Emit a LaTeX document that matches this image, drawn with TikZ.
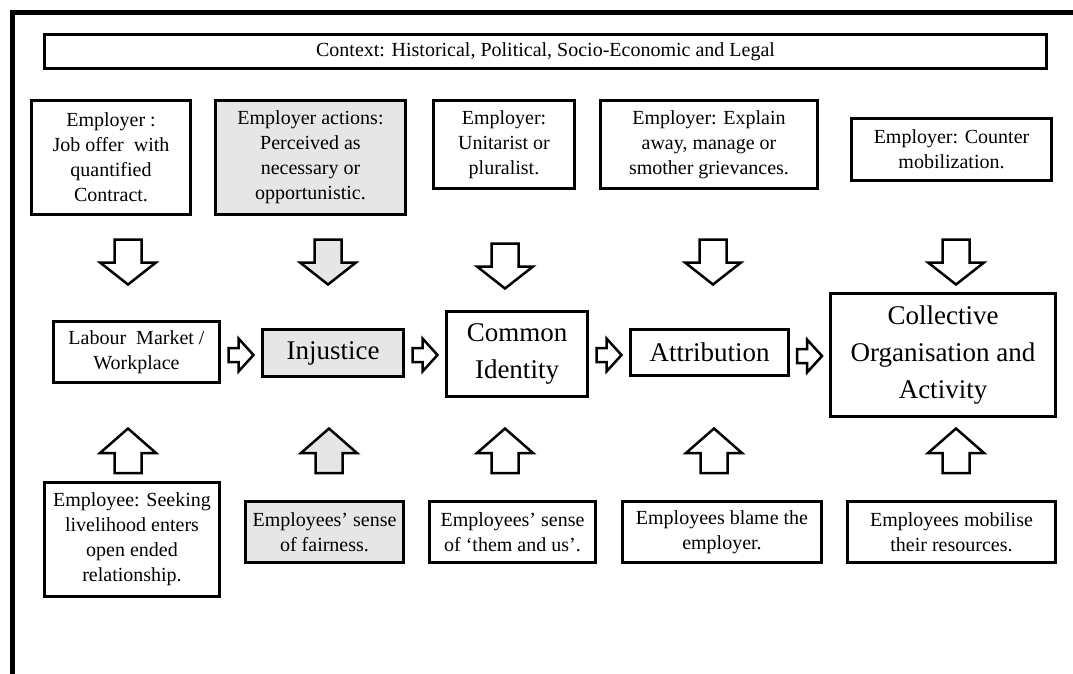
\documentclass[tikz,border=0pt]{standalone}
\usepackage{fontspec}
\setmainfont{Liberation Serif}
\usetikzlibrary{calc}
\definecolor{shade}{RGB}{230,230,230}
\tikzset{
  x=1pt, y=-1pt,
  box/.style={draw, line width=3pt, inner sep=0pt, align=center, fill=white,
    font=\fontsize{20}{25}\selectfont},
  greybox/.style={box, fill=shade},
  bigtext/.style={font=\fontsize{27}{37}\selectfont},
  blockline/.style={draw, line width=2.5pt, line join=miter},
  % hollow block arrows, origin at the middle of the tail
  pics/downarrow/.style={code={
    \path[blockline, fill=#1] (-13.5,0) -- (13.5,0) -- (13.5,23) -- (28,23)
      -- (0,45) -- (-28,23) -- (-13.5,23) -- cycle;}},
  pics/uparrow/.style={code={
    \path[blockline, fill=#1] (-13.5,0) -- (13.5,0) -- (13.5,-20) -- (28,-20)
      -- (0,-44.5) -- (-28,-20) -- (-13.5,-20) -- cycle;}},
  pics/rightarrow/.style={code={
    \path[blockline, fill=#1] (-12.5,-7) -- (-2.5,-7) -- (-2.5,-16.5) -- (12.5,0)
      -- (-2.5,16.5) -- (-2.5,7) -- (-12.5,7) -- cycle;}},
}
\begin{document}
\begin{tikzpicture}
\useasboundingbox (0,0) rectangle (1073,673);
\fill[white] (0,0) rectangle (1073,673);

% outer frame (top and left edges)
\draw[line width=5pt] (12,690) -- (12,12.5) -- (1090,12.5);

% context banner
\node[box, minimum width=1002pt, minimum height=34pt] (ctx) at (545.5,51.5)
  {Context: Historical, Political, Socio-Economic and Legal};

% employer row
\node[box, minimum width=159pt, minimum height=114pt] (t1) at (111,157.5)
  {Employer :\\Job offer~ with\\quantified\\Contract.};
\node[greybox, minimum width=190pt, minimum height=114pt] (t2) at (310.5,157.5)
  {Employer actions:\\Perceived as\\necessary or\\opportunistic.};
\node[box, minimum width=141pt, minimum height=88pt] (t3) at (504,144.5)
  {Employer:\\Unitarist or\\pluralist.};
\node[box, minimum width=217pt, minimum height=88pt] (t4) at (709,144.5)
  {Employer: Explain\\away, manage or\\smother grievances.};
\node[box, minimum width=200pt, minimum height=62pt] (t5) at (951.5,149.5)
  {Employer: Counter\\mobilization.};

% process chain
\node[box, minimum width=166pt, minimum height=61pt] (m1) at (136.5,352)
  {Labour~ Market /\\Workplace};
\node[greybox, bigtext, minimum width=141pt, minimum height=47pt] (m2) at (333,353)
  {Injustice};
\node[box, bigtext, minimum width=141pt, minimum height=85pt] (m3) at (517,354)
  {Common\\Identity};
\node[box, bigtext, minimum width=158pt, minimum height=46pt] (m4) at (709.5,352.5)
  {Attribution};
\node[box, bigtext, minimum width=225pt, minimum height=123pt] (m5) at (943,355)
  {Collective\\Organisation and\\Activity};

% employee row
\node[box, minimum width=175pt, minimum height=114pt] (b1) at (132,539.5)
  {Employee: Seeking\\livelihood enters\\open ended\\relationship.};
\node[greybox, minimum width=158pt, minimum height=61pt] (b2) at (324.5,532)
  {Employees’ sense\\of fairness.};
\node[box, minimum width=166pt, minimum height=61pt] (b3) at (512.5,532)
  {Employees’ sense\\of ‘them and us’.};
\node[box, minimum width=199pt, minimum height=61pt] (b4) at (722,532)
  {Employees blame the\\employer.};
\node[box, minimum width=208pt, minimum height=61pt] (b5) at (951.5,532)
  {Employees mobilise\\their resources.};

% arrows from the employer row
\coordinate (d1) at (128,239.5);
\coordinate (d2) at (328,239.5);
\coordinate (d3) at (505,243.5);
\coordinate (d4) at (713,239.5);
\coordinate (d5) at (956,239.5);
\pic at (d1) {downarrow=white};
\pic at (d2) {downarrow=shade};
\pic at (d3) {downarrow=white};
\pic at (d4) {downarrow=white};
\pic at (d5) {downarrow=white};

% arrows from the employee row
\coordinate (u1) at (128,473);
\coordinate (u2) at (329,473);
\coordinate (u3) at (505,473);
\coordinate (u4) at (714,473);
\coordinate (u5) at (956,473);
\pic at (u1) {uparrow=white};
\pic at (u2) {uparrow=shade};
\pic at (u3) {uparrow=white};
\pic at (u4) {uparrow=white};
\pic at (u5) {uparrow=white};

% arrows along the chain
\path ($(m1.east)!0.5!(m2.west)$) coordinate (g1);
\path ($(m2.east)!0.5!(m3.west)$) coordinate (g2);
\path ($(m3.east)!0.5!(m4.west)$) coordinate (g3);
\path ($(m4.east)!0.5!(m5.west)$) coordinate (g4);
\pic at (g1 |- 0,355) {rightarrow=white};
\pic at (g2 |- 0,355) {rightarrow=white};
\pic at (g3 |- 0,355) {rightarrow=white};
\pic at (g4 |- 0,356) {rightarrow=white};
\end{tikzpicture}
\end{document}
